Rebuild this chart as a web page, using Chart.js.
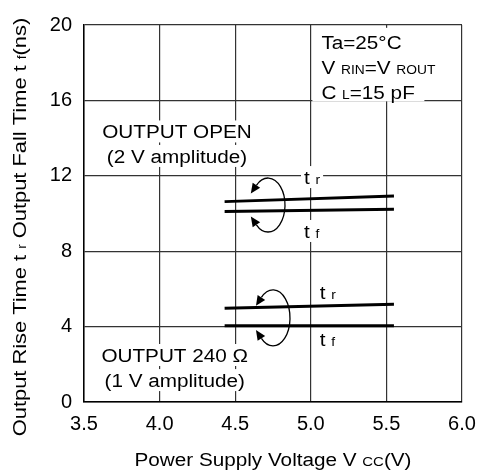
<!DOCTYPE html>
<html>
<head>
<meta charset="utf-8">
<script src="https://cdn.jsdelivr.net/npm/chart.js@4/dist/chart.umd.min.js"></script>
<style>
  html, body { margin: 0; padding: 0; background: #fff; }
  #wrap { width: 479px; height: 474px; }
</style>
</head>
<body>
<div id="wrap"><canvas id="chart"></canvas></div>
<script>
// 数据
const voltages = [4.43, 5.55];
const openRise = [10.63, 10.93];
const openFall = [10.1, 10.22];
const loadRise = [4.97, 5.18];
const loadFall = [4.05, 4.04];
const xTicks = [3.5, 4.0, 4.5, 5.0, 5.5, 6.0];
const yTicks = [0, 4, 8, 12, 16, 20];

const FONT = '"Liberation Sans", Arial, sans-serif';
const SX = 1.15; // 原图文字略宽

function toPoints(xs, ys) {
  return xs.map((x, i) => ({ x: x, y: ys[i] }));
}

function lineSet(xs, ys) {
  return {
    data: toPoints(xs, ys),
    showLine: true,
    borderColor: '#000',
    borderWidth: 3,
    pointRadius: 0,
    fill: false
  };
}

// 画带下标的文字，parts = [文字, 字号]
function richWidth(ctx, parts) {
  let w = 0;
  parts.forEach(p => {
    ctx.font = p[1] + 'px ' + FONT;
    w += ctx.measureText(p[0]).width * SX;
  });
  return w;
}

function drawRich(ctx, parts, x, y, align, bg) {
  const w = richWidth(ctx, parts);
  let left = x;
  if (align === 'center') left = x - w / 2;
  if (align === 'right') left = x - w;
  if (bg) {
    ctx.fillStyle = '#fff';
    ctx.fillRect(left - 3, y - 12, w + 6, 22);
  }
  ctx.fillStyle = '#000';
  ctx.textBaseline = 'alphabetic';
  ctx.textAlign = 'left';
  let cx = left;
  parts.forEach(p => {
    ctx.font = p[1] + 'px ' + FONT;
    ctx.save();
    ctx.translate(cx, y + 6);
    ctx.scale(SX, 1);
    ctx.fillText(p[0], 0, 0);
    ctx.restore();
    cx += ctx.measureText(p[0]).width * SX;
  });
  return w;
}

function arrowHead(ctx, x, y, dx, dy) {
  const len = Math.hypot(dx, dy);
  const ux = dx / len, uy = dy / len;
  const size = 10, half = 4.5;
  ctx.beginPath();
  ctx.moveTo(x + ux * size, y + uy * size);
  ctx.lineTo(x - uy * half, y + ux * half);
  ctx.lineTo(x + uy * half, y - ux * half);
  ctx.closePath();
  ctx.fill();
}

// 弧形箭头
function curvedArrow(ctx, cx, cy, rx, ry) {
  const a0 = -133 * Math.PI / 180, a1 = 133 * Math.PI / 180;
  ctx.strokeStyle = '#000';
  ctx.fillStyle = '#000';
  ctx.lineWidth = 1.3;
  ctx.beginPath();
  ctx.ellipse(cx, cy, rx, ry, 0, a0, a1);
  ctx.stroke();
  const p0x = cx + rx * Math.cos(a0), p0y = cy + ry * Math.sin(a0);
  arrowHead(ctx, p0x, p0y, rx * Math.sin(a0), -ry * Math.cos(a0));
  const p1x = cx + rx * Math.cos(a1), p1y = cy + ry * Math.sin(a1);
  arrowHead(ctx, p1x, p1y, -rx * Math.sin(a1), ry * Math.cos(a1));
}

const notesPlugin = {
  id: 'notes',
  beforeDatasetsDraw(chart) {
    const ctx = chart.ctx;
    const xs = chart.scales.x, ys = chart.scales.y;
    const px = v => xs.getPixelForValue(v);
    const py = v => ys.getPixelForValue(v);
    ctx.save();

    // 右上角条件说明
    const bx = px(5.07);
    ctx.fillStyle = '#fff';
    ctx.fillRect(bx - 9, py(19.85), 112, py(15.95) - py(19.85));
    drawRich(ctx, [['Ta=25°C', 18]], bx, py(19.05), 'left');
    drawRich(ctx, [['V ', 18], ['RIN', 12], ['=V ', 18], ['ROUT', 12]], bx, py(17.7), 'left');
    drawRich(ctx, [['C ', 18], ['L', 12], ['=15 pF', 18]], bx, py(16.4), 'left');

    // 条件文字
    drawRich(ctx, [['OUTPUT OPEN', 18]], px(4.115), py(14.3), 'center', true);
    drawRich(ctx, [['(2 V amplitude)', 18]], px(4.115), py(13.0), 'center', true);
    drawRich(ctx, [['OUTPUT 240 Ω', 18]], px(4.1), py(2.44), 'center', true);
    drawRich(ctx, [['(1 V amplitude)', 18]], px(4.1), py(1.11), 'center', true);

    // tr / tf 标签
    drawRich(ctx, [['t ', 18], ['r', 12]], px(4.955), py(11.88), 'left', true);
    drawRich(ctx, [['t ', 18], ['f', 12]], px(4.955), py(9.02), 'left', true);
    drawRich(ctx, [['t ', 18], ['r', 12]], px(5.06), py(5.78), 'left', true);
    drawRich(ctx, [['t ', 18], ['f', 12]], px(5.06), py(3.29), 'left', true);

    // 箭头
    curvedArrow(ctx, px(4.717), py(10.45), 17, 27);
    curvedArrow(ctx, px(4.75), py(4.46), 17, 28);

    // 坐标轴标题
    const area = chart.chartArea;
    drawRich(ctx, [['Power Supply Voltage V ', 18], ['CC', 13], ['(V)', 18]],
      (area.left + area.right) / 2, 460, 'center');
    ctx.save();
    ctx.translate(20, 227);
    ctx.rotate(-Math.PI / 2);
    drawRich(ctx, [['Output Rise Time t ', 19], ['r', 12], [' Output Fall Time t ', 19], ['f', 12], ['(ns)', 19]],
      0, 0, 'center');
    ctx.restore();

    ctx.restore();
  }
};

new Chart(document.getElementById('chart'), {
  type: 'scatter',
  data: {
    datasets: [
      lineSet(voltages, openRise),
      lineSet(voltages, openFall),
      lineSet(voltages, loadRise),
      lineSet(voltages, loadFall)
    ]
  },
  options: {
    responsive: true,
    maintainAspectRatio: false,
    animation: false,
    layout: { padding: { left: 0, top: 25, right: 17, bottom: 0 } },
    plugins: {
      legend: { display: false },
      tooltip: { enabled: false }
    },
    scales: {
      x: {
        type: 'linear',
        min: 3.5,
        max: 6.0,
        afterBuildTicks: s => { s.ticks = xTicks.map(v => ({ value: v })); },
        afterFit: s => { s.height = 72; s.paddingLeft = 0; s.paddingRight = 0; },
        ticks: {
          callback: v => v.toFixed(1),
          color: '#000',
          font: { family: FONT, size: 20 },
          padding: 10,
          maxRotation: 0
        },
        grid: { color: '#333', lineWidth: 1.2, drawTicks: false },
        border: { color: '#000', width: 1.5 }
      },
      y: {
        min: 0,
        max: 20,
        afterBuildTicks: s => { s.ticks = yTicks.map(v => ({ value: v })); },
        afterFit: s => { s.width = 84; s.paddingTop = 0; s.paddingBottom = 0; },
        ticks: {
          color: '#000',
          font: { family: FONT, size: 20 },
          padding: 12
        },
        grid: { color: '#333', lineWidth: 1.2, drawTicks: false },
        border: { color: '#000', width: 1.5 }
      }
    }
  },
  plugins: [notesPlugin]
});
</script>
</body>
</html>
